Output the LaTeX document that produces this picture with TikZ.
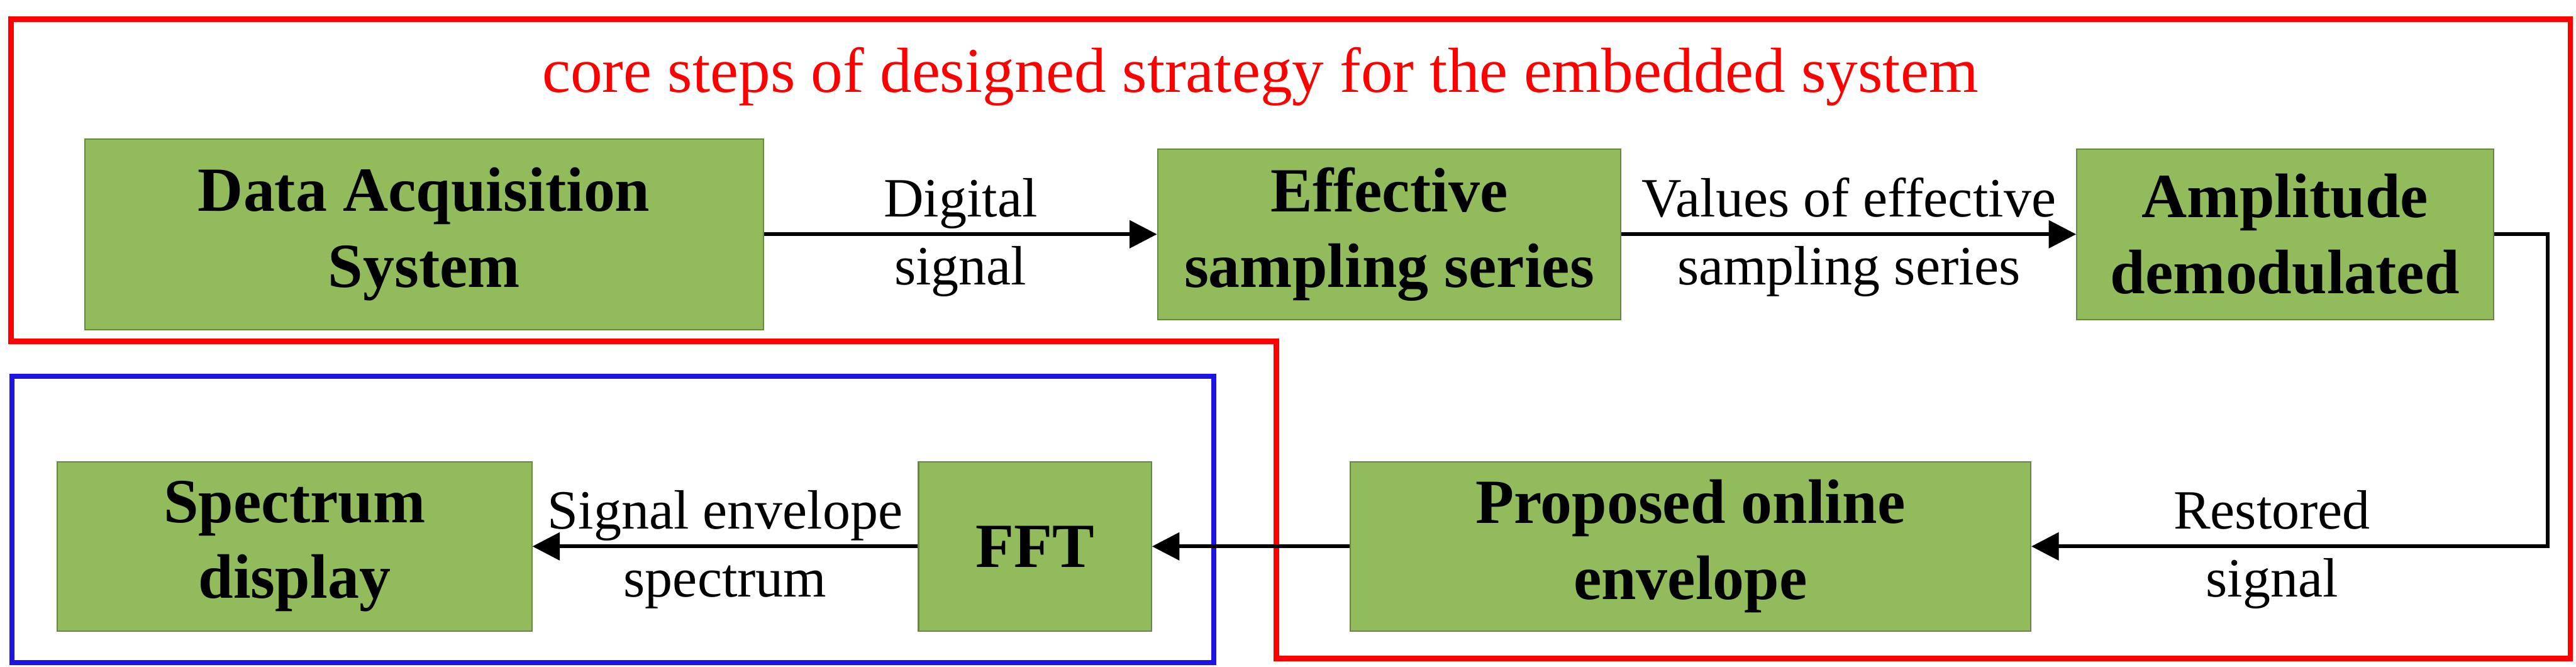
\documentclass[tikz,border=0pt]{standalone}
\usepackage{fontspec}
\setmainfont{Liberation Serif}
\usepackage{xcolor}
\usetikzlibrary{positioning, arrows.meta}

\definecolor{boxgreen}{RGB}{146,187,92}
\definecolor{boxedge}{RGB}{104,134,68}
\definecolor{frameblue}{RGB}{30,20,225}

\begin{document}
\begin{tikzpicture}[
    block/.style={rectangle, draw=boxedge, line width=0.6pt, fill=boxgreen, align=center, inner sep=0pt,
        font=\fontsize{28.7}{34.7}\selectfont\bfseries},
    note/.style={align=center, font=\fontsize{25.3}{31}\selectfont, yshift=-0.05cm},
    arrow/.style={-{Triangle[length=4.4mm, width=4.4mm]}, line width=1.7pt},
    redframe/.style={draw=red, line width=2.5pt},
    blueframe/.style={draw=frameblue, line width=2.3pt}
]
\useasboundingbox (0,0) rectangle (41.37,10.70);

% outer frames
\draw[redframe] (0.18,10.39) -- (41.28,10.39) -- (41.28,0.13) -- (20.50,0.13) -- (20.50,5.22) -- (0.18,5.22) -- cycle;
\draw[blueframe] (0.19,0.06) rectangle (19.49,4.66);

\node[text=red, font=\fontsize{29.1}{35}\selectfont, anchor=base] (title) at (20.24,9.22) {core steps of designed strategy for the embedded system};

% top row
\node[block, minimum width=10.90cm, minimum height=3.06cm] (daq) at (6.81,6.94) {Data Acquisition\\System};
\node[block, minimum width=7.44cm, minimum height=2.74cm, right=6.31cm of daq] (eff) {Effective\\sampling series};
\node[block, minimum width=6.69cm, minimum height=2.74cm, right=7.30cm of eff] (amp) {Amplitude\\demodulated};

% bottom row
\node[block, minimum width=7.62cm, minimum height=2.72cm] (spec) at (4.73,1.93) {Spectrum\\display};
\node[block, minimum width=3.74cm, minimum height=2.72cm, right=6.19cm of spec] (fft) {FFT};
\node[block, minimum width=10.93cm, minimum height=2.72cm, right=3.17cm of fft] (env) {Proposed online\\envelope};

\coordinate[right=0.86cm of amp] (bend);

\draw[arrow] (daq) -- node[note]{Digital\\signal} (eff);
\draw[arrow] (eff) -- node[note]{Values of effective\\sampling series} (amp);
\draw[arrow] (amp) -- (bend) |- node[note, pos=0.767]{Restored\\signal} (env);
\draw[arrow] (env) -- (fft);
\draw[arrow] (fft) -- node[note]{Signal envelope\\spectrum} (spec);
\end{tikzpicture}
\end{document}
